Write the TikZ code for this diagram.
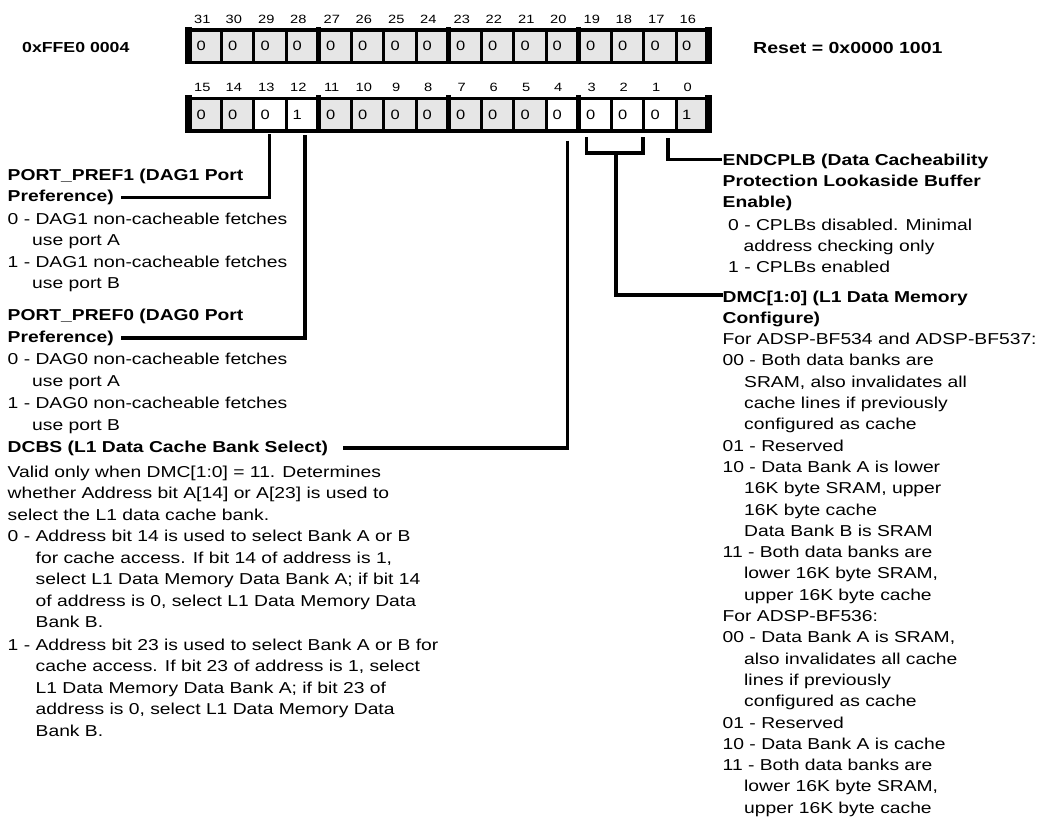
\documentclass[tikz,border=0pt]{standalone}
\usepackage{fontspec}
\setmainfont{Liberation Sans}[FakeStretch=1.22]
\definecolor{cellgray}{HTML}{E6E6E6}
\begin{document}
\begin{tikzpicture}[x=1pt,y=-1pt,
  body/.style={anchor=base west, inner sep=0pt, font=\fontsize{15.8}{19}\selectfont},
  head/.style={anchor=base west, inner sep=0pt, font=\fontsize{15.8}{19}\selectfont\bfseries},
  bitnum/.style={anchor=base, inner sep=0pt, font=\fontsize{12}{14}\selectfont},
  celltxt/.style={anchor=base, inner sep=0pt, font=\fontsize{13.5}{16}\selectfont},
  conn/.style={line width=3.2pt, line join=miter}]
\useasboundingbox (0,0) rectangle (1043,817);

% ---------- register frames ----------
\fill[black] (185,28) rectangle (712,64);
\fill[black] (185,96.5) rectangle (712,132.5);
\foreach \k in {0,4,8,12,16} {
  \pgfmathsetmacro\bx{188.5+32.5*\k}
  \pgfmathsetmacro\hw{(\k==0 || \k==16) ? 3.5 : 2.5}
  \fill[black] (\bx-\hw,26.5) rectangle (\bx+\hw,64);
  \fill[black] (\bx-\hw,95) rectangle (\bx+\hw,132.5);
}
% top row: bits 31..16
\foreach \i in {0,...,15} {
  \pgfmathsetmacro\L{188.5+32.5*\i + ((\i==0) ? 3.5 : ((mod(\i,4)==0) ? 2.5 : 1.5))}
  \pgfmathsetmacro\R{188.5+32.5*(\i+1) - ((\i==15) ? 3.5 : ((mod(\i+1,4)==0) ? 2.5 : 1.5))}
  \pgfmathsetmacro\C{(\L+\R)/2}
  \pgfmathtruncatemacro\bit{31-\i}
  \fill[cellgray] (\L,31.5) rectangle (\R,60.5);
  \node[celltxt] (tv\i) at (\C-4.5,50.8) {0};
  \node[bitnum] (tn\i) at (\C-3.5,23.3) {\bit};
}
% bottom row: bits 15..0
\foreach \i/\c/\v in {0/cellgray/0,1/cellgray/0,2/white/0,3/white/1,4/cellgray/0,5/cellgray/0,6/cellgray/0,7/cellgray/0,8/cellgray/0,9/cellgray/0,10/cellgray/0,11/white/0,12/white/0,13/white/0,14/white/0,15/cellgray/1} {
  \pgfmathsetmacro\L{188.5+32.5*\i + ((\i==0) ? 3.5 : ((mod(\i,4)==0) ? 2.5 : 1.5))}
  \pgfmathsetmacro\R{188.5+32.5*(\i+1) - ((\i==15) ? 3.5 : ((mod(\i+1,4)==0) ? 2.5 : 1.5))}
  \pgfmathsetmacro\C{(\L+\R)/2}
  \pgfmathtruncatemacro\bit{15-\i}
  \fill[\c] (\L,100) rectangle (\R,129);
  \node[celltxt] (bv\i) at (\C-4.5,119.2) {\v};
  \node[bitnum] (bn\i) at (\C-3.5,91) {\bit};
}

% ---------- header texts ----------
\node[anchor=base west, inner sep=0pt, font=\fontsize{14.5}{17}\selectfont\bfseries] (addr) at (22,52.5) {0xFFE0 0004};
\node[anchor=base west, inner sep=0pt, font=\fontsize{16}{19}\selectfont\bfseries] (reset) at (753,53) {Reset = 0x0000 1001};

% ---------- left descriptions ----------
\node[head] (pp1a) at (7.5,180) {PORT\_PREF1 (DAG1 Port};
\node[head] (pp1b) at (7.5,201.5) {Preference)};
\node[body] (pp1c) at (7.5,224) {0 - DAG1 non-cacheable fetches};
\node[body] (pp1d) at (32,245.5) {use port A};
\node[body] (pp1e) at (7.5,267) {1 - DAG1 non-cacheable fetches};
\node[body] (pp1f) at (32,288.5) {use port B};
\node[head] (pp0a) at (7.5,320) {PORT\_PREF0 (DAG0 Port};
\node[head] (pp0b) at (7.5,342) {Preference)};
\node[body] (pp0c) at (7.5,364) {0 - DAG0 non-cacheable fetches};
\node[body] (pp0d) at (32,386) {use port A};
\node[body] (pp0e) at (7.5,408) {1 - DAG0 non-cacheable fetches};
\node[body] (pp0f) at (32,430) {use port B};
\node[head] (dcbs) at (7.5,452) {DCBS (L1 Data Cache Bank Select)};
\node[body] (dc1) at (7.5,477) {Valid only when DMC[1:0] = 11. Determines};
\node[body] (dc2) at (7.5,498.5) {whether Address bit A[14] or A[23] is used to};
\node[body] (dc3) at (7.5,520) {select the L1 data cache bank.};
\node[body] (dc4) at (7.5,541.5) {0 - Address bit 14 is used to select Bank A or B};
\node[body] (dc5) at (35.5,563) {for cache access. If bit 14 of address is 1,};
\node[body] (dc6) at (35.5,584.5) {select L1 Data Memory Data Bank A; if bit 14};
\node[body] (dc7) at (35.5,606) {of address is 0, select L1 Data Memory Data};
\node[body] (dc8) at (35.5,627.5) {Bank B.};
\node[body] (dc9) at (7.5,650) {1 - Address bit 23 is used to select Bank A or B for};
\node[body] (dc10) at (35.5,671.5) {cache access. If bit 23 of address is 1, select};
\node[body] (dc11) at (35.5,693) {L1 Data Memory Data Bank A; if bit 23 of};
\node[body] (dc12) at (35.5,714.5) {address is 0, select L1 Data Memory Data};
\node[body] (dc13) at (35.5,736) {Bank B.};

% ---------- right descriptions ----------
\node[head] (en1) at (722.5,165) {ENDCPLB (Data Cacheability};
\node[head] (en2) at (722.5,186.3) {Protection Lookaside Buffer};
\node[head] (en3) at (722.5,207.6) {Enable)};
\node[body] (en4) at (728,230) {0 - CPLBs disabled. Minimal};
\node[body] (en5) at (743.5,251.3) {address checking only};
\node[body] (en6) at (728,272.6) {1 - CPLBs enabled};
\node[head] (dm1) at (722.5,302) {DMC[1:0] (L1 Data Memory};
\node[head] (dm2) at (722.5,323.3) {Configure)};
\node[body] (dm3) at (722.5,344.6) {For ADSP-BF534 and ADSP-BF537:};
\node[body] (dm4) at (722.5,365.9) {00 - Both data banks are};
\node[body] (dm5) at (744,387.2) {SRAM, also invalidates all};
\node[body] (dm6) at (744,408.5) {cache lines if previously};
\node[body] (dm7) at (744,429.8) {configured as cache};
\node[body] (dm8) at (722.5,451.1) {01 - Reserved};
\node[body] (dm9) at (722.5,472.4) {10 - Data Bank A is lower};
\node[body] (dm10) at (744,493.7) {16K byte SRAM, upper};
\node[body] (dm11) at (744,515) {16K byte cache};
\node[body] (dm12) at (744,536.3) {Data Bank B is SRAM};
\node[body] (dm13) at (722.5,557.6) {11 - Both data banks are};
\node[body] (dm14) at (744,578.9) {lower 16K byte SRAM,};
\node[body] (dm15) at (744,600.2) {upper 16K byte cache};
\node[body] (dm16) at (722.5,621.5) {For ADSP-BF536:};
\node[body] (dm17) at (722.5,642.8) {00 - Data Bank A is SRAM,};
\node[body] (dm18) at (744,664.1) {also invalidates all cache};
\node[body] (dm19) at (744,685.4) {lines if previously};
\node[body] (dm20) at (744,706.7) {configured as cache};
\node[body] (dm21) at (722.5,728) {01 - Reserved};
\node[body] (dm22) at (722.5,749.3) {10 - Data Bank A is cache};
\node[body] (dm23) at (722.5,770.6) {11 - Both data banks are};
\node[body] (dm24) at (744,791.9) {lower 16K byte SRAM,};
\node[body] (dm25) at (744,813.2) {upper 16K byte cache};

% ---------- connectors ----------
\coordinate (p1top) at (269.5,134);
\coordinate (p1end) at (121,197.5);
\coordinate (p0top) at (305,135);
\coordinate (p0end) at (121,338);
\coordinate (dctop) at (567.5,140.5);
\coordinate (dcend) at (343,448);
\coordinate (brL) at (586.7,137);
\coordinate (brR) at (643,137);
\coordinate (brM) at (616,153);
\coordinate (dmend) at (723,295);
\coordinate (entop) at (668,138);
\coordinate (enend) at (722,159.5);
\draw[conn] (p1top) |- (p1end);
\draw[conn] (p0top) |- (p0end);
\draw[conn] (dctop) |- (dcend);
\draw[conn] (brL) -- ++(0,16) -| (brR);
\draw[conn] (brM) |- (dmend);
\draw[conn] (entop) |- (enend);
\end{tikzpicture}
\end{document}
